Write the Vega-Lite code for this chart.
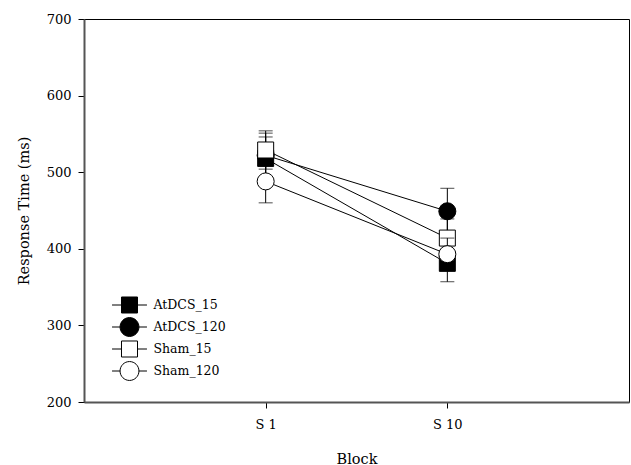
{
  "$schema": "https://vega.github.io/schema/vega-lite/v6.json",
  "width": 545,
  "height": 383,
  "autosize": "none",
  "padding": {"left": 84, "top": 19, "right": 2, "bottom": 63},
  "background": "white",
  "config": {
    "font": "DejaVu Serif",
    "view": {"stroke": "black", "strokeWidth": 1},
    "axis": {
      "domainColor": "#555555",
      "domainWidth": 2,
      "tickColor": "black",
      "tickWidth": 1,
      "tickSize": 6,
      "grid": false,
      "labelColor": "black",
      "labelFont": "DejaVu Serif",
      "labelFontSize": 13,
      "titleColor": "black",
      "titleFont": "DejaVu Serif",
      "titleFontSize": 14.5,
      "titleFontWeight": "normal"
    },
    "legend": {
      "orient": "none",
      "legendX": 36,
      "legendY": 276.5,
      "padding": 0,
      "rowPadding": 0,
      "labelOffset": 14.5,
      "labelFont": "DejaVu Serif",
      "labelFontSize": 12.5,
      "labelColor": "black",
      "symbolSize": 324,
      "symbolStrokeWidth": 1
    }
  },
  "data": {
    "values": [
      {"series": "AtDCS_15", "block": "S 1", "mean": 518, "lo": 490, "hi": 546},
      {"series": "AtDCS_15", "block": "S 10", "mean": 381, "lo": 357, "hi": 405},
      {"series": "AtDCS_120", "block": "S 1", "mean": 522, "lo": 493, "hi": 551},
      {"series": "AtDCS_120", "block": "S 10", "mean": 449, "lo": 419, "hi": 479},
      {"series": "Sham_15", "block": "S 1", "mean": 529, "lo": 504, "hi": 554},
      {"series": "Sham_15", "block": "S 10", "mean": 414, "lo": 389, "hi": 439},
      {"series": "Sham_120", "block": "S 1", "mean": 488, "lo": 460, "hi": 516},
      {"series": "Sham_120", "block": "S 10", "mean": 393, "lo": 372, "hi": 414}
    ]
  },
  "encoding": {
    "x": {
      "field": "block",
      "type": "nominal",
      "sort": ["S 1", "S 10"],
      "scale": {"type": "point", "domain": ["S 1", "S 10"], "padding": 1},
      "axis": {"title": "Block", "labelAngle": 0, "labelPadding": 10, "titleBaseline": "alphabetic", "titleY": 61}
    },
    "y": {
      "type": "quantitative",
      "scale": {"domain": [200, 700], "nice": false, "zero": false},
      "axis": {"title": "Response Time (ms)", "values": [200, 300, 400, 500, 600, 700], "labelPadding": 7, "titleBaseline": "alphabetic", "titleX": -55.5, "titleAngle": -90}
    }
  },
  "resolve": {"scale": {"shape": "independent", "fill": "independent"}, "legend": {"shape": "independent", "fill": "independent"}},
  "layer": [
    {
      "transform": [{"filter": "datum.series === 'AtDCS_15'"}],
      "layer": [
        {"mark": {"type": "line", "color": "black", "strokeWidth": 1}, "encoding": {"y": {"field": "mean", "type": "quantitative"}}},
        {"mark": {"type": "rule", "color": "black", "strokeWidth": 1}, "encoding": {"y": {"field": "lo", "type": "quantitative"}, "y2": {"field": "hi"}}},
        {"mark": {"type": "tick", "color": "black", "size": 14, "thickness": 1}, "encoding": {"y": {"field": "lo", "type": "quantitative"}}},
        {"mark": {"type": "tick", "color": "black", "size": 14, "thickness": 1}, "encoding": {"y": {"field": "hi", "type": "quantitative"}}},
        {"mark": {"type": "point", "shape": "square", "filled": true, "fill": "black", "stroke": "black", "strokeWidth": 1, "opacity": 1, "size": 256},
         "encoding": {"y": {"field": "mean", "type": "quantitative"}}}
      ]
    },
    {
      "transform": [{"filter": "datum.series === 'AtDCS_120'"}],
      "layer": [
        {"mark": {"type": "line", "color": "black", "strokeWidth": 1}, "encoding": {"y": {"field": "mean", "type": "quantitative"}}},
        {"mark": {"type": "rule", "color": "black", "strokeWidth": 1}, "encoding": {"y": {"field": "lo", "type": "quantitative"}, "y2": {"field": "hi"}}},
        {"mark": {"type": "tick", "color": "black", "size": 14, "thickness": 1}, "encoding": {"y": {"field": "lo", "type": "quantitative"}}},
        {"mark": {"type": "tick", "color": "black", "size": 14, "thickness": 1}, "encoding": {"y": {"field": "hi", "type": "quantitative"}}},
        {"mark": {"type": "point", "shape": "circle", "filled": true, "fill": "black", "stroke": "black", "strokeWidth": 1, "opacity": 1, "size": 290},
         "encoding": {"y": {"field": "mean", "type": "quantitative"}}}
      ]
    },
    {
      "transform": [{"filter": "datum.series === 'Sham_15'"}],
      "layer": [
        {"mark": {"type": "line", "color": "black", "strokeWidth": 1}, "encoding": {"y": {"field": "mean", "type": "quantitative"}}},
        {"mark": {"type": "rule", "color": "black", "strokeWidth": 1}, "encoding": {"y": {"field": "lo", "type": "quantitative"}, "y2": {"field": "hi"}}},
        {"mark": {"type": "tick", "color": "black", "size": 14, "thickness": 1}, "encoding": {"y": {"field": "lo", "type": "quantitative"}}},
        {"mark": {"type": "tick", "color": "black", "size": 14, "thickness": 1}, "encoding": {"y": {"field": "hi", "type": "quantitative"}}},
        {"mark": {"type": "point", "shape": "square", "filled": true, "fill": "white", "stroke": "black", "strokeWidth": 1, "opacity": 1, "size": 256},
         "encoding": {"y": {"field": "mean", "type": "quantitative"}}}
      ]
    },
    {
      "transform": [{"filter": "datum.series === 'Sham_120'"}],
      "layer": [
        {"mark": {"type": "line", "color": "black", "strokeWidth": 1}, "encoding": {"y": {"field": "mean", "type": "quantitative"}}},
        {"mark": {"type": "rule", "color": "black", "strokeWidth": 1}, "encoding": {"y": {"field": "lo", "type": "quantitative"}, "y2": {"field": "hi"}}},
        {"mark": {"type": "tick", "color": "black", "size": 14, "thickness": 1}, "encoding": {"y": {"field": "lo", "type": "quantitative"}}},
        {"mark": {"type": "tick", "color": "black", "size": 14, "thickness": 1}, "encoding": {"y": {"field": "hi", "type": "quantitative"}}},
        {"mark": {"type": "point", "shape": "circle", "filled": true, "fill": "white", "stroke": "black", "strokeWidth": 1, "opacity": 1, "size": 290},
         "encoding": {"y": {"field": "mean", "type": "quantitative"}}}
      ]
    },
    {
      "transform": [{"filter": "false"}],
      "mark": {"type": "point", "filled": true, "stroke": "black", "strokeWidth": 1, "opacity": 1, "size": 324},
      "encoding": {
        "y": {"field": "mean", "type": "quantitative"},
        "shape": {"field": "series", "type": "nominal", "scale": {"domain": ["AtDCS_15", "AtDCS_120", "Sham_15", "Sham_120"], "range": [
          "M-1.94,0H-0.89M0.89,0H1.94M-0.89,-0.89H0.89V0.89H-0.89Z",
          "M-1.94,0H-1.05M1.05,0H1.94M-1.05,0A1.05,1.05,0,1,0,1.05,0A1.05,1.05,0,1,0,-1.05,0Z",
          "M-1.94,0H-0.89M0.89,0H1.94M-0.89,-0.89H0.89V0.89H-0.89Z",
          "M-1.94,0H-1.05M1.05,0H1.94M-1.05,0A1.05,1.05,0,1,0,1.05,0A1.05,1.05,0,1,0,-1.05,0Z"]},
          "legend": {"title": null}},
        "fill": {"field": "series", "type": "nominal", "scale": {"domain": ["AtDCS_15", "AtDCS_120", "Sham_15", "Sham_120"], "range": ["black", "black", "white", "white"]}, "legend": {"title": null}}
      }
    }
  ]
}
